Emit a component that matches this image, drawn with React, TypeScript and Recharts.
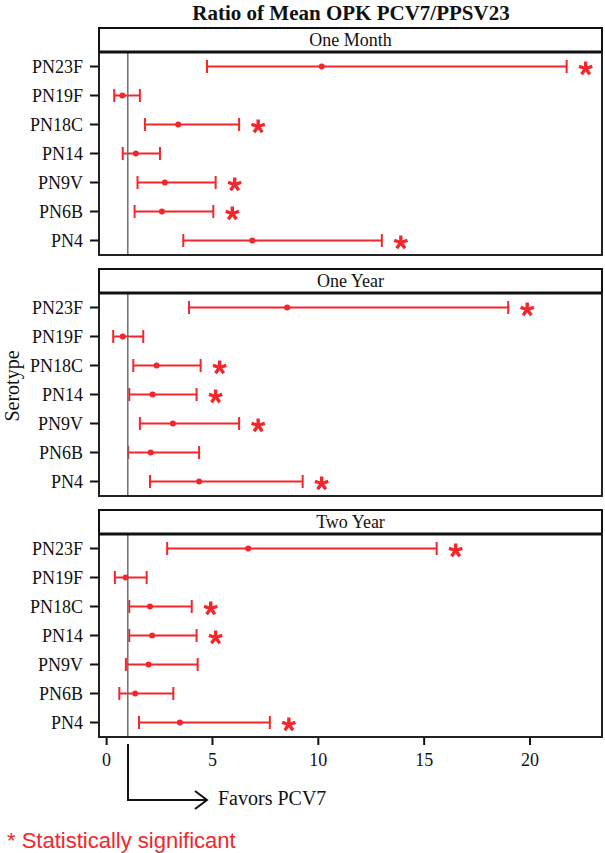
import React from "react";
import {
  ComposedChart,
  Bar,
  Line,
  XAxis,
  YAxis,
  ReferenceLine,
  LabelList,
} from "recharts";

// serotypes, top to bottom
const serotypes = ["PN23F", "PN19F", "PN18C", "PN14", "PN9V", "PN6B", "PN4"];

const oneMonthMean = [10.16, 0.74, 3.38, 1.38, 2.75, 2.61, 6.88];
const oneMonthLow = [4.74, 0.36, 1.81, 0.76, 1.46, 1.32, 3.62];
const oneMonthHigh = [21.73, 1.57, 6.26, 2.52, 5.15, 5.04, 13.0];
const oneMonthSig = [true, false, true, false, true, true, true];

const oneYearMean = [8.53, 0.76, 2.36, 2.17, 3.13, 2.08, 4.37];
const oneYearLow = [3.89, 0.31, 1.26, 1.07, 1.57, 1.02, 2.05];
const oneYearHigh = [18.97, 1.73, 4.44, 4.25, 6.26, 4.37, 9.26];
const oneYearSig = [true, false, true, true, true, false, true];

const twoYearMean = [6.69, 0.9, 2.05, 2.15, 1.98, 1.35, 3.46];
const twoYearLow = [2.86, 0.39, 1.07, 1.07, 0.91, 0.6, 1.53];
const twoYearHigh = [15.59, 1.89, 4.02, 4.25, 4.3, 3.15, 7.71];
const twoYearSig = [true, false, true, true, false, false, true];

const xTicks = [0, 5, 10, 15, 20];
const X_DOMAIN: [number, number] = [-0.36, 23.4];

const RED = "#f2262b";
const SERIF = "'Liberation Serif', 'Times New Roman', serif";
const SANS = "'Liberation Sans', Arial, sans-serif";

const PLOT_LEFT = 99;
const PLOT_RIGHT = 602;
const HEADER_H = 24;
const PLOT_H = 203;
const AXIS_H = 50;

function buildRows(mean: number[], low: number[], high: number[], sig: boolean[]) {
  return serotypes.map((s, i) => ({
    serotype: s,
    mean: mean[i],
    range: [low[i], high[i]],
    sig: sig[i],
  }));
}

const panels = [
  { title: "One Month", top: 28, rows: buildRows(oneMonthMean, oneMonthLow, oneMonthHigh, oneMonthSig) },
  { title: "One Year", top: 269, rows: buildRows(oneYearMean, oneYearLow, oneYearHigh, oneYearSig) },
  { title: "Two Year", top: 510, rows: buildRows(twoYearMean, twoYearLow, twoYearHigh, twoYearSig) },
];

function Whisker(props: any) {
  const { x, y, width, height } = props;
  if (x == null || width == null) return null;
  const cy = y + height / 2;
  return (
    <g stroke={RED} strokeWidth={2} fill="none">
      <line x1={x} x2={x + width} y1={cy} y2={cy} />
      <line x1={x} x2={x} y1={y} y2={y + height} />
      <line x1={x + width} x2={x + width} y1={y} y2={y + height} />
    </g>
  );
}

function Star(props: any) {
  const { x, y, width, height, value } = props;
  if (!value) return null;
  const cx = x + width + 19;
  const cy = y + height / 2 + 2;
  const arms = [-90, -18, 54, 126, 198].map((a) => {
    const r = (a * Math.PI) / 180;
    return (
      <line
        key={a}
        x1={cx}
        y1={cy}
        x2={cx + 7 * Math.cos(r)}
        y2={cy + 7 * Math.sin(r)}
      />
    );
  });
  return (
    <g stroke={RED} strokeWidth={3.4}>
      {arms}
    </g>
  );
}

function Panel({ rows, last }: { rows: any[]; last: boolean }) {
  return (
    <ComposedChart
      layout="vertical"
      width={605}
      height={PLOT_H + (last ? AXIS_H : 0)}
      data={rows}
      margin={{ top: 0, right: 605 - PLOT_RIGHT, bottom: 0, left: 0 }}
    >
      <XAxis
        type="number"
        domain={X_DOMAIN}
        ticks={xTicks}
        allowDataOverflow
        hide={!last}
        height={last ? AXIS_H : 0}
        axisLine={false}
        tickSize={8}
        tickMargin={8}
        tickLine={{ stroke: "#111", strokeWidth: 2 }}
        tick={{ fontSize: 18, fill: "#111", fontFamily: SERIF }}
      />
      <YAxis
        type="category"
        dataKey="serotype"
        width={PLOT_LEFT}
        axisLine={false}
        tickSize={9}
        tickMargin={7}
        tickLine={{ stroke: "#111", strokeWidth: 2 }}
        tick={{ fontSize: 18, fill: "#111", fontFamily: SERIF }}
        interval={0}
      />
      <ReferenceLine x={1} stroke="#6f6f6f" strokeWidth={1.5} />
      <Bar dataKey="range" barSize={13} shape={<Whisker />} isAnimationActive={false}>
        <LabelList dataKey="sig" content={<Star />} />
      </Bar>
      <Line
        dataKey="mean"
        stroke="none"
        dot={{ r: 3, fill: RED, stroke: "none" }}
        activeDot={false}
        isAnimationActive={false}
      />
    </ComposedChart>
  );
}

export default function App() {
  return (
    <div
      style={{
        position: "absolute",
        left: 0,
        top: 0,
        width: 605,
        height: 853,
        background: "#fff",
      }}
    >
      {panels.map((p, i) => (
        <div
          key={p.title}
          style={{ position: "absolute", left: 0, top: p.top + HEADER_H }}
        >
          <Panel rows={p.rows} last={i === panels.length - 1} />
        </div>
      ))}
      <svg
        width={605}
        height={853}
        style={{ position: "absolute", left: 0, top: 0, pointerEvents: "none" }}
      >
        <text
          x={351}
          y={20}
          textAnchor="middle"
          fontFamily={SERIF}
          fontWeight="bold"
          fontSize={21}
          fill="#111"
        >
          Ratio of Mean OPK PCV7/PPSV23
        </text>
        {panels.map((p) => (
          <g key={p.title}>
            <rect
              x={PLOT_LEFT}
              y={p.top}
              width={PLOT_RIGHT - PLOT_LEFT}
              height={HEADER_H}
              fill="#fff"
              stroke="#111"
              strokeWidth={2}
            />
            <text
              x={(PLOT_LEFT + PLOT_RIGHT) / 2}
              y={p.top + HEADER_H / 2 + 6}
              textAnchor="middle"
              fontFamily={SERIF}
              fontSize={18}
              fill="#111"
            >
              {p.title}
            </text>
            <rect
              x={PLOT_LEFT}
              y={p.top + HEADER_H}
              width={PLOT_RIGHT - PLOT_LEFT}
              height={PLOT_H}
              fill="none"
              stroke="#222"
              strokeWidth={2}
            />
            <line
              x1={PLOT_LEFT}
              x2={PLOT_RIGHT}
              y1={p.top + HEADER_H}
              y2={p.top + HEADER_H}
              stroke="#111"
              strokeWidth={3}
            />
          </g>
        ))}
        <text
          transform="translate(12,386) rotate(-90)"
          textAnchor="middle"
          dominantBaseline="central"
          fontFamily={SERIF}
          fontSize={20}
          fill="#111"
        >
          Serotype
        </text>
        <g stroke="#111" strokeWidth={2} fill="none">
          <polyline points="128,744 128,800 206,800" />
          <polyline points="195,791 207,800 195,809" />
        </g>
        <text x={218} y={805} fontFamily={SERIF} fontSize={20} fill="#111">
          Favors PCV7
        </text>
        <text x={7} y={848} fontFamily={SANS} fontSize={22} fill={RED}>
          * Statistically significant
        </text>
      </svg>
    </div>
  );
}
